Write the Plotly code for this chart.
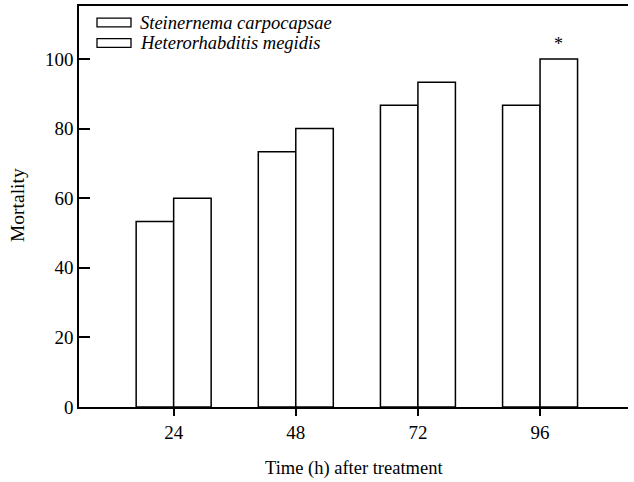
import plotly.graph_objects as go

categories = ["24", "48", "72", "96"]
series_names = ["Steinernema carpocapsae", "Heterorhabditis megidis"]
steinernema = [53.3, 73.3, 86.7, 86.7]
heterorhabditis = [60.0, 80.0, 93.3, 100.0]
y_ticks = [0, 20, 40, 60, 80, 100]
x_title = "Time (h) after treatment"
y_title = "Mortality"

FONT = "Liberation Serif"
W, H = 634, 482
L, R, T, B = 79, 6, 6, 75
pw, ph = W - L - R, H - T - B

def px(x):
    return (x - L) / pw
def py(y):
    return (H - B - y) / ph

fig = go.Figure()
for name, vals in zip(series_names, [steinernema, heterorhabditis]):
    fig.add_trace(go.Bar(
        x=list(range(len(categories))), y=vals, name=name,
        marker=dict(color="white", line=dict(color="black", width=1.5)),
        showlegend=False,
    ))

# asterisk above last Heterorhabditis bar
fig.add_annotation(x=3, y=heterorhabditis[3], xshift=18.7, yshift=15, text="*",
                   showarrow=False, font=dict(family=FONT, size=18, color="black"))

# manual legend
for i, name in enumerate(series_names):
    cy = 22.5 + i * 20.5
    fig.add_shape(type="rect", xref="paper", yref="paper",
                  x0=px(97), x1=px(131), y0=py(cy + 4.3), y1=py(cy - 4.3),
                  line=dict(color="black", width=1.3), fillcolor="white")
    fig.add_annotation(xref="paper", yref="paper", x=px(138), y=py(cy),
                       xanchor="left", yanchor="middle", showarrow=False,
                       text=name,
                       font=dict(family=FONT, size=18.5, color="black", style="italic"))

# axis titles
fig.add_annotation(xref="paper", yref="paper", x=0.5, y=py(468),
                   xanchor="center", yanchor="middle", showarrow=False,
                   text=x_title, font=dict(family=FONT, size=18.5, color="black"))
fig.add_annotation(xref="paper", yref="paper", x=px(18), y=py(205),
                   xanchor="center", yanchor="middle", showarrow=False, textangle=-90,
                   text=y_title, font=dict(family=FONT, size=19.5, color="black"))

fig.update_layout(
    width=W, height=H,
    margin=dict(l=L, r=R, t=T, b=B, autoexpand=False),
    paper_bgcolor="white", plot_bgcolor="white",
    barmode="group", bargap=0.386, bargroupgap=0,
    font=dict(family=FONT, size=19, color="black"),
    xaxis=dict(
        tickmode="array", tickvals=list(range(len(categories))), ticktext=categories,
        range=[-0.775, 3.72], showline=True, linecolor="black", linewidth=1.5,
        mirror=True, ticks="outside", ticklen=7, tickcolor="black", tickwidth=1.5,
        showgrid=False, zeroline=False, automargin=False,
        tickfont=dict(family=FONT, size=19),
    ),
    yaxis=dict(
        range=[0, 115.2], tickvals=y_ticks, showline=True, linecolor="black", linewidth=1.5,
        ticks="inside", ticklen=11, tickcolor="black", tickwidth=1.5,
        showgrid=False, zeroline=False, automargin=False,
        tickfont=dict(family=FONT, size=19),
    ),
)

fig.write_html("out.html", config={"displayModeBar": False},
               post_script="document.body.style.margin='0';document.body.style.padding='0';")
